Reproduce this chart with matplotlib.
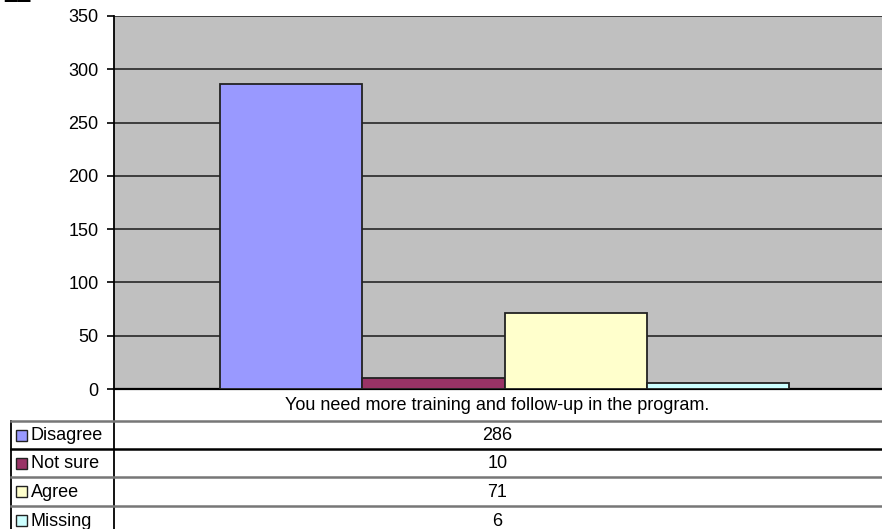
import matplotlib.pyplot as plt
from matplotlib.lines import Line2D
from matplotlib.patches import Rectangle

# data
question = 'You need more training and follow-up in the program.'
categories = ['Disagree', 'Not sure', 'Agree', 'Missing']
counts = [286, 10, 71, 6]
colors = ['#9999FF', '#993366', '#FFFFCC', '#CCFFFF']
y_ticks = [0, 50, 100, 150, 200, 250, 300, 350]

W, H = 882, 529
plt.rcParams['font.family'] = ['Liberation Sans', 'DejaVu Sans']
fig = plt.figure(figsize=(W / 100, H / 100), dpi=100)


def fx(px):
    return px / W


def fy(py):
    return 1 - py / H


# plot area (extends past the right edge, like the cropped original)
left, right, top, bottom = 114, 895, 16, 389
ax = fig.add_axes([fx(left), fy(bottom), fx(right - left), fy(top) - fy(bottom)])
ax.set_facecolor('#C0C0C0')
ax.set_xlim(0, 1)
ax.set_ylim(0, 350)

bar_w = 142.3 / (right - left)
x0 = 0.5 - 2 * bar_w
for i, (v, c) in enumerate(zip(counts, colors)):
    ax.bar(x0 + i * bar_w, v, width=bar_w, align='edge', color=c,
           edgecolor='#222222', linewidth=1.3, zorder=3)

ax.set_yticks(y_ticks)
ax.tick_params(axis='y', direction='out', length=5, width=1.2, labelsize=13, pad=6)
ax.set_xticks([])
ax.grid(True, axis='y', color='#333333', linewidth=1.3, zorder=1)
for s in ['top', 'right']:
    ax.spines[s].set_visible(False)
ax.spines['left'].set_linewidth(1.3)
ax.spines['bottom'].set_linewidth(1.6)

# data table below the plot
center_x = left + (right - left) * 0.5
rows = [389, 421, 449, 477, 506, 534]
tbl_left = 11

fig.add_artist(Line2D([fx(left), fx(left)], [fy(389), fy(540)], color='black', lw=1.3))
fig.add_artist(Line2D([fx(tbl_left), fx(tbl_left)], [fy(421), fy(540)], color='black', lw=1.3))
line_cols = ['#777777', 'black', '#777777', '#777777']
for yy, lc in zip(rows[1:5], line_cols):
    fig.add_artist(Line2D([fx(tbl_left), 1], [fy(yy), fy(yy)], color=lc, lw=1.8))

fig.text(fx(center_x - 7), fy((rows[0] + rows[1]) / 2 + 1), question,
         ha='center', va='center', fontsize=13)

for i, (lab, v, c) in enumerate(zip(categories, counts, colors)):
    yc = (rows[i + 1] + rows[i + 2]) / 2
    fig.add_artist(Rectangle((fx(16), fy(yc + 5.5)), fx(11), fy(yc - 5.5) - fy(yc + 5.5),
                             facecolor=c, edgecolor='#222222', lw=1.0))
    fig.text(fx(31), fy(yc + 1), lab, ha='left', va='center', fontsize=13)
    fig.text(fx(center_x - 7), fy(yc + 1), str(v), ha='center', va='center', fontsize=13)

# cropped title fragment at the very top-left
fig.text(fx(2), fy(8), '11', ha='left', va='bottom', fontsize=20, fontweight='bold')

fig.savefig('out.png', dpi=100)
